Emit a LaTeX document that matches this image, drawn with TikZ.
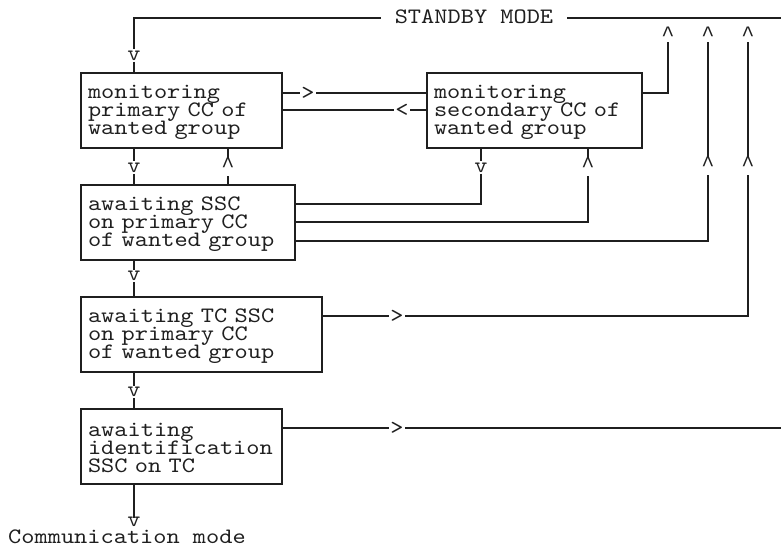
\documentclass[tikz,border=0pt]{standalone}
\usepackage{fontspec}
\newfontfamily\asciifont[FakeStretch=1.143]{lmmono10-regular.otf}
\newfontfamily\caretfont{Liberation Mono}
\definecolor{ink}{gray}{0.12}
\newcommand\asciisetup{\asciifont\fontsize{22}{18}\selectfont\setlength{\lineskiplimit}{-100pt}\setlength{\lineskip}{0pt}\relax}
\newcommand\firststrut{\rule{0pt}{17pt}}
\begin{document}
\begin{tikzpicture}[x=1pt,y=-1pt,
  every node/.style={font=\asciisetup, text=ink},
  wire/.style={draw=ink, line width=1.3pt},
  box/.style={draw=ink, line width=1.3pt, rectangle, minimum height=75pt,
    inner xsep=7pt, inner ysep=0pt, outer sep=0pt, align=left, anchor=north west},
  glyph/.style={inner sep=1.5pt},
  caret/.style={inner sep=0pt, anchor=north, font=\caretfont\fontsize{22}{22}\selectfont},
]
\useasboundingbox (0,0) rectangle (781,547);

% boxes
\node[box, text width=187pt] (b1) at (81,73) {\firststrut monitoring\\primary CC of\\wanted group};
\node[box, text width=201pt] (b2) at (427,73) {\firststrut monitoring\\secondary CC of\\wanted group};
\node[box, text width=200pt] (b3) at (81,185) {\firststrut awaiting SSC\\on primary CC\\of wanted group};
\node[box, text width=227pt] (b4) at (81,297) {\firststrut awaiting TC SSC\\on primary CC\\of wanted group};
\node[box, text width=187pt] (b5) at (81,409) {\firststrut awaiting\\identification\\SSC on TC};

% standby line
\node[inner xsep=14pt, inner ysep=0pt] (sb) at (474,17) {STANDBY MODE};
\coordinate (tl) at (134,18);
\coordinate (tr) at (781,18);
\node[glyph] (v0) at (134,55.5) {v};
\draw[wire] (sb.west |- tl) -- (tl) -- (v0.north);
\draw[wire] (sb.east |- tr) -- (tr);
\draw[wire] (v0.south) -- (v0 |- b1.north);

% b1 <-> b2
\node[glyph] (gt1) at (308,93) {>};
\draw[wire] (b1.east |- gt1) -- (gt1.west);
\draw[wire] (gt1.east) -- (b2.west |- gt1);
\node[glyph] (lt1) at (402,110) {<};
\draw[wire] (b2.west |- lt1) -- (lt1.east);
\draw[wire] (lt1.west) -- (b1.east |- lt1);

% top carets
\node[caret] (c1) at (668,27) {\textasciicircum};
\node[caret] (c2) at (708,27) {\textasciicircum};
\node[caret] (c3) at (748,27) {\textasciicircum};
\coordinate (r1) at (668,93);
\draw[wire] (b2.east |- r1) -- (r1) -- (c1.south);

% b1 -> b3 and b3 -> b1
\node[glyph] (v1) at (134,167.5) {v};
\draw[wire] (v1 |- b1.south) -- (v1.north);
\draw[wire] (v1.south) -- (v1 |- b3.north);
\node[caret] (c4) at (228,158) {\textasciicircum};
\draw[wire] (c4 |- b3.north) -- ([yshift=-3pt]c4.south);
\draw[wire] (c4.north) -- (c4 |- b1.south);

% b2 -> b3 (v) and b3 -> b2 (caret)
\node[glyph] (v2) at (481,167.5) {v};
\coordinate (k1) at (481,204);
\draw[wire] (v2 |- b2.south) -- (v2.north);
\draw[wire] (v2.south) -- (k1) -- (b3.east |- k1);
\node[caret] (c5) at (588,158) {\textasciicircum};
\coordinate (k2) at (588,222);
\draw[wire] (b3.east |- k2) -- (k2) -- ([yshift=-3pt]c5.south);
\draw[wire] (c5.north) -- (c5 |- b2.south);

% b3 -> standby
\node[caret] (c6) at (708,157) {\textasciicircum};
\coordinate (k3) at (708,241);
\draw[wire] (b3.east |- k3) -- (k3) -- ([yshift=-3pt]c6.south);
\draw[wire] (c6.north) -- (c2.south);

% b3 -> b4
\node[glyph] (v3) at (134,276) {v};
\draw[wire] (v3 |- b3.south) -- (v3.north);
\draw[wire] (v3.south) -- (v3 |- b4.north);

% b4 -> standby
\node[glyph] (gt2) at (397,316) {>};
\coordinate (k4) at (748,316);
\node[caret] (c7) at (748,157) {\textasciicircum};
\draw[wire] (b4.east |- gt2) -- (gt2.west);
\draw[wire] (gt2.east) -- (k4) -- ([yshift=-3pt]c7.south);
\draw[wire] (c7.north) -- (c3.south);

% b4 -> b5
\node[glyph] (v4) at (134,392) {v};
\draw[wire] (v4 |- b4.south) -- (v4.north);
\draw[wire] (v4.south) -- (v4 |- b5.north);

% b5 -> right
\node[glyph] (gt3) at (397,428) {>};
\coordinate (k5) at (781,428);
\draw[wire] (b5.east |- gt3) -- (gt3.west);
\draw[wire] (gt3.east) -- (k5);

% b5 -> communication mode
\node[glyph] (v5) at (134,522) {v};
\draw[wire] (v5 |- b5.south) -- ([yshift=-2pt]v5.north);
\node[inner sep=0pt, anchor=west] (cm) at (8,537) {Communication mode};
\end{tikzpicture}
\end{document}
